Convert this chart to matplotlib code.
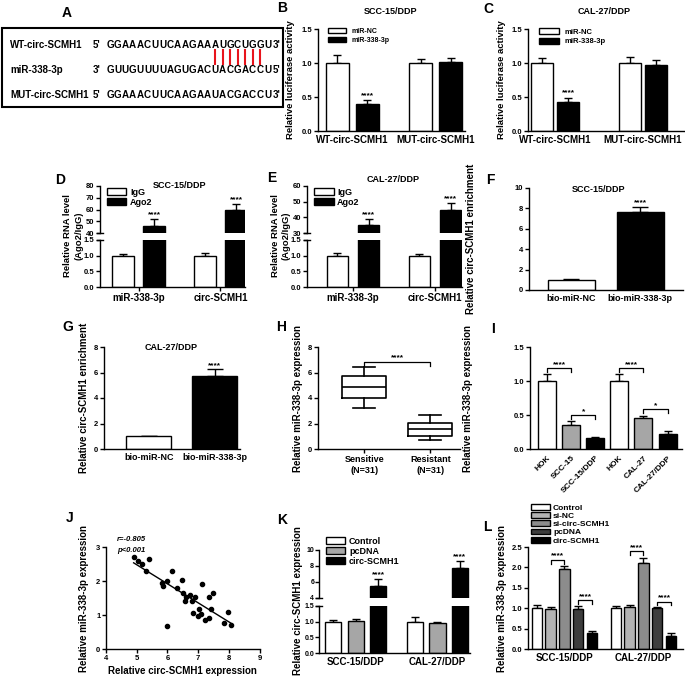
import numpy as np
import matplotlib.pyplot as plt
from matplotlib.patches import Rectangle, Patch
from matplotlib.lines import Line2D

plt.rcParams['font.family'] = ['Liberation Sans', 'DejaVu Sans']
plt.rcParams['font.weight'] = 'bold'
plt.rcParams['axes.labelweight'] = 'bold'
plt.rcParams['axes.linewidth'] = 1.0
plt.rcParams['xtick.major.width'] = 1.0
plt.rcParams['ytick.major.width'] = 1.0
plt.rcParams['xtick.major.size'] = 3
plt.rcParams['ytick.major.size'] = 3
plt.rcParams['xtick.major.pad'] = 1.5
plt.rcParams['ytick.major.pad'] = 1.0
plt.rcParams['xtick.labelsize'] = 7
plt.rcParams['ytick.labelsize'] = 5.5

# ---- data ----
# A: binding sites
seq_names = ['WT-circ-SCMH1', 'miR-338-3p', 'MUT-circ-SCMH1']
seq_left = ["5'", "3'", "5'"]
seq_right = ["3'", "5'", "3'"]
seqs = ['GGAAACUUCAAGAAAUGCUGGU', 'GUUGUUUUAGUGACUACGACCU', 'GGAAACUUCAAGAAUACGACCU']
paired = [14, 15, 16, 17, 18, 19, 20]

# B, C: luciferase
luc_groups = ['WT-circ-SCMH1', 'MUT-circ-SCMH1']
b_nc, b_nc_err = [1.0, 1.0], [0.12, 0.06]
b_mir, b_mir_err = [0.39, 1.02], [0.06, 0.06]
c_nc, c_nc_err = [1.0, 1.0], [0.07, 0.09]
c_mir, c_mir_err = [0.42, 0.97], [0.07, 0.08]

# D, E: RIP
rip_groups = ['miR-338-3p', 'circ-SCMH1']
d_igg, d_igg_err = [1.0, 1.0], [0.06, 0.08]
d_ago, d_ago_err = [46, 60], [6, 5]
e_igg, e_igg_err = [1.0, 1.0], [0.1, 0.05]
e_ago, e_ago_err = [35, 45], [4, 4]

# F, G: pull-down
pull_groups = ['bio-miR-NC', 'bio-miR-338-3p']
f_vals, f_err = [1.0, 7.6], [0.08, 0.55]
g_vals, g_err = [1.0, 5.7], [0.05, 0.55]

# H: tissue boxes
h_groups = ['Sensitive\n(N=31)', 'Resistant\n(N=31)']
h_med = [4.85, 1.55]
h_q1 = [4.0, 1.05]
h_q3 = [5.7, 2.05]
h_lo = [3.2, 0.7]
h_hi = [6.4, 2.7]

# I: cell lines
i_labels = ['HOK', 'SCC-15', 'SCC-15/DDP', 'HOK', 'CAL-27', 'CAL-27/DDP']
i_vals = [1.0, 0.36, 0.16, 1.0, 0.45, 0.22]
i_err = [0.1, 0.05, 0.02, 0.1, 0.04, 0.04]

# J: correlation
j_circ = [4.90, 5.04, 5.16, 5.41, 5.30, 5.81, 5.85, 6.00, 6.16, 6.31, 6.46,
          5.99, 6.52, 6.56, 6.61, 6.74, 6.80, 6.89, 6.82, 7.12, 7.03, 7.00,
          7.10, 7.21, 7.34, 7.50, 7.41, 7.36, 7.85, 7.97, 8.06]
j_mir = [2.71, 2.60, 2.49, 2.64, 2.29, 1.94, 1.85, 2.01, 2.28, 1.78, 2.02,
         0.68, 1.64, 1.40, 1.53, 1.58, 1.42, 1.53, 1.07, 1.91, 1.19, 0.97,
         1.03, 0.84, 1.52, 1.65, 1.17, 0.92, 0.77, 1.10, 0.72]

# K: overexpression
k_groups = ['SCC-15/DDP', 'CAL-27/DDP']
k_ctrl, k_ctrl_err = [1.0, 1.0], [0.06, 0.15]
k_pc, k_pc_err = [1.02, 0.97], [0.07, 0.03]
k_circ, k_circ_err = [5.5, 7.7], [0.9, 0.9]

# L: knockdown / overexpression
l_series = ['Control', 'si-NC', 'si-circ-SCMH1', 'pcDNA', 'circ-SCMH1']
l_scc = [1.01, 0.97, 1.97, 0.99, 0.39]
l_scc_err = [0.07, 0.05, 0.07, 0.06, 0.06]
l_cal = [1.01, 1.02, 2.11, 1.0, 0.33]
l_cal_err = [0.05, 0.05, 0.13, 0.03, 0.05]

W, H = 685, 677
fig = plt.figure(figsize=(W / 100, H / 100), dpi=100)


def rect(x0, y0, x1, y1):
    return [x0 / W, 1 - y1 / H, (x1 - x0) / W, (y1 - y0) / H]


def new_ax(x0, y0, x1, y1):
    ax = fig.add_axes(rect(x0, y0, x1, y1))
    ax.spines[['top', 'right']].set_visible(False)
    return ax


def ftext(x, y, s, **kw):
    kw.setdefault('ha', 'center')
    kw.setdefault('va', 'center')
    fig.text(x / W, 1 - y / H, s, **kw)


def ylab(ax, s, xpx, size=7):
    # put the y label at a given pixel column
    ax.set_ylabel(s, fontsize=size)
    bb = ax.get_position()
    ax.yaxis.set_label_coords((xpx / W - bb.x0) / bb.width, 0.5)


def bars(ax, x, vals, errs, width, color):
    ax.bar(x, vals, width, color=color, edgecolor='black', linewidth=1.0, zorder=2)
    ax.errorbar(x, vals, yerr=[np.zeros(len(vals)), errs], fmt='none', ecolor='black',
                elinewidth=1.0, capsize=3, capthick=1.0, zorder=1)


def stars(ax, x, y, s='****', size=6):
    ax.text(x, y, s, ha='center', va='bottom', fontsize=size, clip_on=False)


def bracket(ax, x1, x2, y, h, s):
    ax.plot([x1, x1, x2, x2], [y - h, y, y, y - h], color='black', lw=0.9, clip_on=False)
    ax.text((x1 + x2) / 2, y, s, ha='center', va='bottom', fontsize=6)


def panel(x, y, s):
    ftext(x, y, s, fontsize=10)


def break_mark(xp, yp):
    fig.add_artist(Line2D([(xp - 3) / W, (xp + 3) / W], [1 - yp / H, 1 - yp / H],
                          color='black', lw=1.0))


# ---------------- A ----------------
panel(67, 13, 'A')
fig.add_artist(Rectangle((2 / W, 1 - 107 / H), 281 / W, 79 / H, fill=False,
                         edgecolor='black', lw=1.5))
row_y = [45, 70, 95]
pitch = 7.5
for r in range(3):
    ftext(10, row_y[r], seq_names[r], ha='left', fontsize=7)
    ftext(97, row_y[r], seq_left[r], fontsize=7)
    for k, ch in enumerate(seqs[r]):
        ftext(110 + k * pitch, row_y[r], ch, fontsize=7.1)
    ftext(110 + (len(seqs[r]) - 1) * pitch + 9.5, row_y[r], seq_right[r], fontsize=7)
for k in paired:
    xp = 110 + k * pitch
    fig.add_artist(Line2D([xp / W, xp / W], [1 - 50 / H, 1 - 64 / H], color='#e8141c', lw=1.5))


# ---------------- B, C ----------------
def luc_panel(px_box, nc, nc_err, mir, mir_err, off, width, xlim, legfs, labx):
    ax = new_ax(*px_box)
    x = np.arange(len(luc_groups))
    bars(ax, x - off, nc, nc_err, width, 'white')
    bars(ax, x + off, mir, mir_err, width, 'black')
    stars(ax, x[0] + off, mir[0] + mir_err[0] + 0.02)
    ax.set_xlim(*xlim)
    ax.set_ylim(0, 1.5)
    ax.set_yticks([0, 0.5, 1.0, 1.5], ['0.0', '0.5', '1.0', '1.5'])
    ax.set_xticks(x, luc_groups)
    ax.tick_params(axis='x', length=0, pad=3)
    ylab(ax, 'Relative luciferase activity', labx, 6.8)
    h = [Patch(facecolor='white', edgecolor='black'), Patch(facecolor='black', edgecolor='black')]
    ax.legend(h, ['miR-NC', 'miR-338-3p'], loc='upper left', bbox_to_anchor=(0.05, 1.04),
              frameon=False, fontsize=legfs, handlelength=2.6, handleheight=0.8,
              borderaxespad=0, labelspacing=0.3)
    return ax


panel(282, 8, 'B')
luc_panel((318, 29, 465, 131), b_nc, b_nc_err, b_mir, b_mir_err, 0.18, 0.28, (-0.41, 1.35), 5, 295)
ftext(391, 12, 'SCC-15/DDP', fontsize=6.5)

panel(488, 9, 'C')
luc_panel((528, 29, 684, 131), c_nc, c_nc_err, c_mir, c_mir_err, 0.15, 0.25, (-0.31, 1.47), 5.5, 506)
ftext(604, 12, 'CAL-27/DDP', fontsize=6.5)


# ---------------- D, E ----------------
def rip_panel(x0, x1, igg, igg_err, ago, ago_err, top_lim, top_ticks, xlim):
    up = new_ax(x0, 186, x1, 233)
    lo = new_ax(x0, 240, x1, 287)
    x = np.arange(len(rip_groups))
    for ax in (up, lo):
        bars(ax, x - 0.19, igg, igg_err, 0.26, 'white')
        bars(ax, x + 0.19, ago, ago_err, 0.26, 'black')
        ax.set_xlim(*xlim)
    up.set_ylim(*top_lim)
    up.set_yticks(top_ticks)
    up.spines['bottom'].set_visible(False)
    up.tick_params(axis='x', bottom=False, labelbottom=False)
    lo.set_ylim(0, 1.5)
    lo.set_yticks([0, 0.5, 1.0, 1.5], ['0.0', '0.5', '1.0', '1.5'])
    lo.set_xticks(x, rip_groups)
    for k in range(len(x)):
        stars(up, x[k] + 0.19, ago[k] + ago_err[k] + 0.5)
    break_mark(x0, 233)
    break_mark(x0, 240)
    h = [Patch(facecolor='white', edgecolor='black'), Patch(facecolor='black', edgecolor='black')]
    up.legend(h, ['IgG', 'Ago2'], loc='upper left', bbox_to_anchor=(0.02, 1.04), frameon=False,
              fontsize=6.5, handlelength=2.2, handleheight=0.8, borderaxespad=0,
              labelspacing=0.15, handletextpad=0.4)
    ftext(x0 - 32, 236, 'Relative RNA level', rotation=90, fontsize=6.8)
    ftext(x0 - 21, 236, '(Ago2/IgG)', rotation=90, fontsize=6.8)


panel(60, 180, 'D')
rip_panel(100, 245, d_igg, d_igg_err, d_ago, d_ago_err, (40, 80), [40, 50, 60, 70, 80], (-0.47, 1.3))
ftext(180, 185, 'SCC-15/DDP', fontsize=6.5)

panel(272, 178, 'E')
rip_panel(307, 462, e_igg, e_igg_err, e_ago, e_ago_err, (30, 60), [30, 40, 50, 60], (-0.56, 1.33))
ftext(393, 180, 'CAL-27/DDP', fontsize=6.5)


# ---------------- F, G ----------------
def pull_panel(px_box, vals, errs, ylim, xlim, labx):
    ax = new_ax(*px_box)
    x = np.arange(len(pull_groups))
    ax.bar(x, vals, 0.68, color=['white', 'black'], edgecolor='black', linewidth=1.0, zorder=2)
    ax.errorbar(x, vals, yerr=[np.zeros(2), errs], fmt='none', ecolor='black',
                elinewidth=1.0, capsize=6, capthick=1.0, zorder=1)
    stars(ax, x[1], vals[1] + errs[1] + ylim * 0.005)
    ax.set_ylim(0, ylim)
    ax.set_yticks(np.arange(0, ylim + 1, 2))
    ax.set_xlim(*xlim)
    ax.set_xticks(x, pull_groups)
    ax.tick_params(axis='x', length=0, pad=3, labelsize=6.5)
    ylab(ax, 'Relative circ-SCMH1 enrichment', labx)
    return ax


panel(490, 180, 'F')
pull_panel((529, 188, 683, 290), f_vals, f_err, 10, (-0.61, 1.62), 476)
ftext(599, 189, 'SCC-15/DDP', fontsize=6.5)

panel(68, 327, 'G')
pull_panel((104, 347, 240, 449), g_vals, g_err, 8, (-0.68, 1.38), 89)
ftext(171, 348, 'CAL-27/DDP', fontsize=6.5)

# ---------------- H ----------------
panel(281, 327, 'H')
ax = new_ax(318, 347, 460, 449)
stats = [dict(med=h_med[k], q1=h_q1[k], q3=h_q3[k], whislo=h_lo[k], whishi=h_hi[k], fliers=[])
         for k in range(2)]
lp = dict(color='black', lw=1.2)
ax.bxp(stats, positions=[0, 1], widths=0.67, boxprops=lp, medianprops=lp, whiskerprops=lp,
       capprops=lp, showfliers=False, capwidths=0.33)
bracket(ax, 0, 1, 6.85, 0.35, '****')
ax.set_ylim(0, 8)
ax.set_yticks([0, 2, 4, 6, 8])
ax.set_xlim(-0.7, 1.45)
ax.set_xticks([0, 1], h_groups)
ax.tick_params(axis='x', labelsize=6.5)
ylab(ax, 'Relative miR-338-3p expression', 303)

# ---------------- I ----------------
panel(493, 329, 'I')
ax = new_ax(530, 347, 682, 449)
x = np.arange(len(i_labels))
bars(ax, x, i_vals, i_err, 0.75, ['white', '#a6a6a6', 'black'] * 2)
bracket(ax, 0, 1, 1.19, 0.06, '****')
bracket(ax, 1, 2, 0.5, 0.06, '*')
bracket(ax, 3, 4, 1.19, 0.06, '****')
bracket(ax, 4, 5, 0.59, 0.06, '*')
ax.set_ylim(0, 1.5)
ax.set_yticks([0, 0.5, 1.0, 1.5], ['0.0', '0.5', '1.0', '1.5'])
ax.set_xlim(-0.71, 5.6)
ax.set_xticks(x, i_labels, rotation=45, ha='right', rotation_mode='anchor', fontsize=6)
ax.tick_params(axis='x', length=0, pad=4)
ylab(ax, 'Relative miR-338-3p expression', 473)

# ---------------- J ----------------
panel(70, 518, 'J')
ax = new_ax(106, 547, 259.5, 649)
ax.scatter(j_circ, j_mir, s=9, color='black', zorder=3)
fit = np.polyfit(j_circ, j_mir, 1)
xx = np.array([min(j_circ), max(j_circ)])
ax.plot(xx, np.polyval(fit, xx), color='black', lw=1.0)
ax.text(4.35, 3.23, 'r=-0.805', fontsize=5.5, style='italic', va='center', clip_on=False)
ax.text(4.35, 2.89, 'p<0.001', fontsize=5.5, style='italic', va='center', clip_on=False)
ax.set_xlim(4, 9)
ax.set_ylim(0, 3)
ax.set_xticks([4, 5, 6, 7, 8, 9])
ax.set_yticks([0, 1, 2, 3])
ax.tick_params(axis='x', labelsize=5.5)
ax.set_xlabel('Relative circ-SCMH1 expression', fontsize=7, labelpad=3)
ylab(ax, 'Relative miR-338-3p expression', 89)

# ---------------- K ----------------
panel(282, 520, 'K')
up = new_ax(319, 550, 470, 598)
lo = new_ax(319, 606, 470, 653)
x = np.arange(len(k_groups))
for a in (up, lo):
    bars(a, x - 0.276, k_ctrl, k_ctrl_err, 0.2, 'white')
    bars(a, x, k_pc, k_pc_err, 0.2, '#a6a6a6')
    bars(a, x + 0.276, k_circ, k_circ_err, 0.2, 'black')
    a.set_xlim(-0.45, 1.4)
    a.tick_params(axis='y', labelsize=5, pad=0.5)
up.set_ylim(4, 10)
up.set_yticks([4, 6, 8, 10])
up.spines['bottom'].set_visible(False)
up.tick_params(axis='x', bottom=False, labelbottom=False)
for k in range(2):
    stars(up, x[k] + 0.276, k_circ[k] + k_circ_err[k] + 0.1)
lo.set_ylim(0, 1.5)
lo.set_yticks([0, 0.5, 1.0, 1.5], ['0.0', '0.5', '1.0', '1.5'])
lo.set_xticks(x, k_groups)
lo.tick_params(axis='x', length=0, pad=3)
break_mark(319, 598)
break_mark(319, 606)
h = [Patch(facecolor=c, edgecolor='black') for c in ['white', '#a6a6a6', 'black']]
up.legend(h, ['Control', 'pcDNA', 'circ-SCMH1'], loc='upper left', bbox_to_anchor=(0.02, 1.35),
          frameon=False, fontsize=6.5, handlelength=2.2, handleheight=0.8, borderaxespad=0,
          labelspacing=0.1, handletextpad=0.4)
ftext(298, 601, 'Relative circ-SCMH1 expression', rotation=90, fontsize=7)

# ---------------- L ----------------
panel(487, 527, 'L')
ax = new_ax(528, 547, 683, 649)
l_colors = ['white', '#b3b3b3', '#8c8c8c', '#3d3d3d', 'black']
x = np.arange(2)
for k in range(len(l_series)):
    bars(ax, x + (k - 2) * 0.174, [l_scc[k], l_cal[k]], [l_scc_err[k], l_cal_err[k]], 0.133, l_colors[k])
bracket(ax, -0.174, 0, 2.19, 0.1, '****')
bracket(ax, 0.174, 0.348, 1.2, 0.09, '****')
bracket(ax, 1 - 0.174, 1, 2.40, 0.1, '****')
bracket(ax, 1.174, 1.348, 1.16, 0.09, '****')
ax.set_ylim(0, 2.5)
ax.set_yticks([0, 0.5, 1.0, 1.5, 2.0, 2.5], ['0.0', '0.5', '1.0', '1.5', '2.0', '2.5'])
ax.set_xlim(-0.46, 1.5)
ax.set_xticks(x, k_groups)
ax.tick_params(axis='x', length=0, pad=3)
ylab(ax, 'Relative miR-338-3p expression', 507)
h = [Patch(facecolor=c, edgecolor='black') for c in l_colors]
ax.legend(h, l_series, loc='lower left', bbox_to_anchor=(0.0, 0.99), frameon=False,
          fontsize=6, handlelength=2.2, handleheight=0.7, borderaxespad=0,
          labelspacing=0.05, handletextpad=0.4)

fig.savefig('out.png', dpi=100)
